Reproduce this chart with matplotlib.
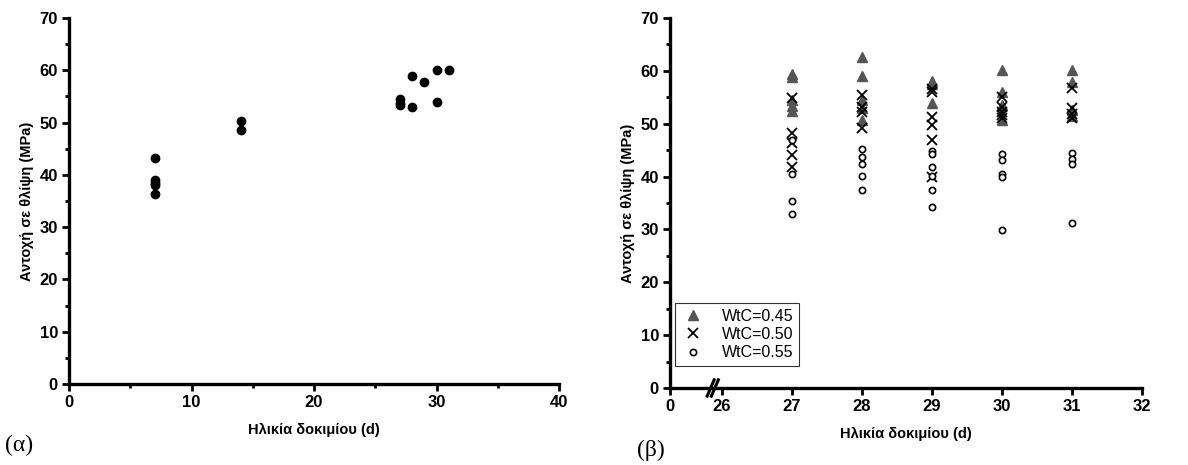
import numpy as np
import matplotlib
matplotlib.use("Agg")
import matplotlib.pyplot as plt
from matplotlib.ticker import MultipleLocator

plt.rcParams['font.family'] = ['Liberation Sans', 'DejaVu Sans']
plt.rcParams['font.weight'] = 'bold'

# --- (α) data: age (d) vs compressive strength (MPa) ---
age_a = [7, 7, 7, 7, 7, 14, 14, 27, 27, 27, 28, 28, 29, 30, 30, 31]
strength_a = [43.2, 39.0, 38.5, 38.0, 36.3, 50.4, 48.6,
              54.5, 53.8, 53.3, 58.9, 53.0, 57.8, 60.0, 54.0, 60.0]

# --- (β) data, per water/cement ratio ---
age_045 = [27, 27, 27, 27, 27, 28, 28, 28, 28, 28, 29, 29, 29, 30, 30, 30, 30, 31, 31, 31, 31]
str_045 = [59.4, 58.8, 54.5, 53.4, 52.4, 62.7, 59.0, 54.5, 53.0, 50.7,
           58.1, 57.6, 54.0, 60.2, 56.0, 53.5, 50.7, 60.2, 57.9, 52.5, 51.5]

age_050 = [27, 27, 27, 27, 27, 28, 28, 28, 28, 29, 29, 29, 29, 29, 29,
           30, 30, 30, 30, 30, 31, 31, 31, 31]
str_050 = [54.9, 48.2, 46.3, 44.1, 41.8, 55.4, 53.2, 52.2, 49.1,
           56.5, 56.0, 51.2, 49.7, 46.9, 39.9,
           55.1, 53.2, 52.2, 51.6, 51.0, 56.7, 52.9, 51.9, 51.0]

age_055 = [27, 27, 27, 27, 28, 28, 28, 28, 28, 29, 29, 29, 29, 29, 29,
           30, 30, 30, 30, 30, 31, 31, 31, 31]
str_055 = [47.0, 40.5, 35.3, 32.9, 45.3, 43.7, 42.4, 40.2, 37.4,
           44.8, 44.3, 41.8, 40.2, 37.4, 34.2,
           44.2, 43.2, 40.4, 39.9, 29.8, 44.5, 43.4, 42.4, 31.3]

legend_labels = ["WtC=0.45", "WtC=0.50", "WtC=0.55"]

x_tick_pos_b = [25.26, 26, 27, 28, 29, 30, 31, 32]
x_tick_lbl_b = ["0", "26", "27", "28", "29", "30", "31", "32"]

xlabel = "Ηλικία δοκιμίου (d)"
ylabel = "Αντοχή σε θλίψη (MPa)"

fig = plt.figure(figsize=(11.88, 4.65), dpi=100)
ax1 = fig.add_axes([0.0581, 0.1742, 0.4125, 0.787])
ax2 = fig.add_axes([0.564, 0.1656, 0.3973, 0.7957])


def style_axes(ax):
    for s in ["top", "right"]:
        ax.spines[s].set_visible(False)
    for s in ["left", "bottom"]:
        ax.spines[s].set_linewidth(2.4)
    ax.tick_params(which="major", direction="out", length=5, width=2,
                   labelsize=12, pad=3)
    ax.tick_params(which="minor", direction="out", length=3, width=2)
    ax.set_xlabel(xlabel, fontsize=10.5, fontweight="bold", labelpad=9)
    ax.set_ylabel(ylabel, fontsize=10.5, fontweight="bold", labelpad=4)


# (α)
ax1.scatter(age_a, strength_a, s=36, color="black", zorder=3)
ax1.set_xlim(0, 40)
ax1.set_ylim(0, 70)
ax1.xaxis.set_major_locator(MultipleLocator(10))
ax1.xaxis.set_minor_locator(MultipleLocator(5))
ax1.yaxis.set_major_locator(MultipleLocator(10))
ax1.yaxis.set_minor_locator(MultipleLocator(5))
style_axes(ax1)

# (β)
ax2.plot(age_045, str_045, linestyle="none", marker="^", ms=6.5,
         color="#555555", label=legend_labels[0])
ax2.plot(age_050, str_050, linestyle="none", marker="x", ms=7.5, mew=1.3,
         color="black", label=legend_labels[1])
ax2.plot(age_055, str_055, linestyle="none", marker="o", ms=4.5, mew=1.2,
         mfc="white", mec="black", label=legend_labels[2])
ax2.set_xlim(25.26, 32)
ax2.set_ylim(0, 70)
ax2.set_xticks(x_tick_pos_b)
ax2.set_xticklabels(x_tick_lbl_b)
ax2.yaxis.set_major_locator(MultipleLocator(10))
ax2.yaxis.set_minor_locator(MultipleLocator(5))
style_axes(ax2)

leg = ax2.legend(loc="lower left", bbox_to_anchor=(0.01, 0.06),
                 prop={"size": 11.5, "weight": "normal"},
                 frameon=True, fancybox=False, borderpad=0.35, handletextpad=1.0,
                 labelspacing=0.2, borderaxespad=0, handlelength=1.6)
leg.get_frame().set_edgecolor("black")
leg.get_frame().set_linewidth(0.8)

# axis break marks near 26
for dx in (-0.06, 0.0):
    ax2.plot([25.85 + dx, 25.95 + dx], [-0.022, 0.022], transform=ax2.get_xaxis_transform(),
             color="black", lw=2.2, clip_on=False)

fig.text(0.004, 0.03, "(α)", fontsize=17, weight="normal", family="Liberation Serif")
fig.text(0.536, 0.02, "(β)", fontsize=17, weight="normal", family="Liberation Serif")

fig.savefig("out.png", dpi=100)
